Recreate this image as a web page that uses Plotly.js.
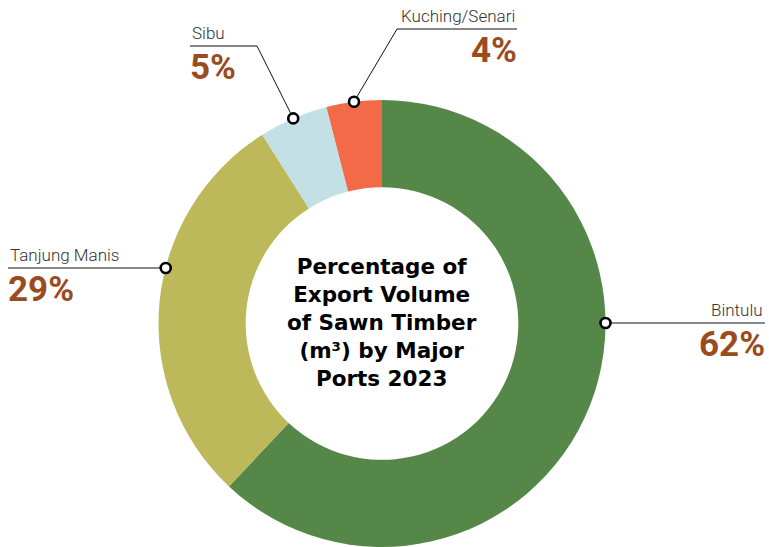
<!DOCTYPE html>
<html>
<head>
<meta charset="utf-8">
<script src="https://cdn.plot.ly/plotly-3.0.1.min.js"></script>
<style>html,body{margin:0;padding:0;background:#fff;}#chart{width:769px;height:547px;}</style>
</head>
<body>
<div id="chart"></div>
<script>
// Data
const ports = ["Bintulu", "Tanjung Manis", "Sibu", "Kuching/Senari"];
const shares = [62, 29, 5, 4];
const pctLabels = ["62%", "29%", "5%", "4%"];
const colors = ["#558848", "#BDB85A", "#C3E0E4", "#F26A47"];
const centerTitle = "Percentage of<br>Export Volume<br>of Sawn Timber<br>(m³) by Major<br>Ports 2023";

const W = 769, H = 547;
const dom = {x: [158 / W, 606 / W], y: [0, (H - 100) / H]};
const R = 223.5, CX = 382, CY = 323.5;
const px = x => x / W;
const py = y => 1 - y / H;

// label geometry (layout): angle override in degrees clockwise from 12 o'clock (null = slice middle)
const anchorOverride = [90, -75.4, null, null];
const total = shares.reduce((a, b) => a + b, 0);
let cum = 0;
const anchors = shares.map((v, i) => {
  const mid = (cum + v / 2) / total * 360;
  cum += v;
  const a = (anchorOverride[i] !== null ? anchorOverride[i] : (mid - 360)) * Math.PI / 180;
  return {x: CX + R * Math.sin(a), y: CY - R * Math.cos(a)};
});

const leaders = [
  {elbow: null, endX: 765, side: "right", lineY: 323},
  {elbow: null, endX: 8, side: "left", lineY: 268},
  {elbow: {x: 257, y: 46}, endX: 190, side: "left", lineY: 46},
  {elbow: {x: 397, y: 29}, endX: 517, side: "right", lineY: 29}
];

const shapes = [];
const annotations = [];
leaders.forEach((L, i) => {
  const a = anchors[i];
  if (L.elbow) {
    shapes.push({type: "line", xref: "paper", yref: "paper", x0: px(a.x), y0: py(a.y), x1: px(L.elbow.x), y1: py(L.elbow.y), line: {color: "#111", width: 1}});
    shapes.push({type: "line", xref: "paper", yref: "paper", x0: px(L.elbow.x), y0: py(L.elbow.y), x1: px(L.endX), y1: py(L.elbow.y), line: {color: "#111", width: 1}});
  } else {
    shapes.push({type: "line", xref: "paper", yref: "paper", x0: px(a.x), y0: py(L.lineY), x1: px(L.endX), y1: py(L.lineY), line: {color: "#111", width: 1}});
  }
  const mr = 5;
  const ay = L.elbow ? a.y : L.lineY;
  shapes.push({type: "circle", xref: "paper", yref: "paper", x0: px(a.x - mr), x1: px(a.x + mr), y0: py(ay - mr), y1: py(ay + mr), fillcolor: "#fff", line: {color: "#000", width: 2.6}});
  annotations.push({xref: "paper", yref: "paper", x: px(L.endX), y: py(L.lineY - 1), xanchor: L.side, yanchor: "bottom", showarrow: false,
    text: ports[i], font: {family: "Roboto", size: 17, color: "#333", weight: 300}});
  annotations.push({xref: "paper", yref: "paper", x: px(L.endX + (L.side === "left" ? -2 : 2)), y: py(L.lineY - 1), xanchor: L.side, yanchor: "top", showarrow: false,
    text: pctLabels[i], font: {family: "Roboto", size: 35, color: "#9A4B20", weight: 700}});
});

annotations.push({xref: "paper", yref: "paper", x: px(CX), y: py(CY - 1), xanchor: "center", yanchor: "middle", showarrow: false,
  text: "<b>" + centerTitle + "</b>", align: "center", font: {family: "DejaVu Sans", size: 21.5, color: "#000"}});

const trace = {
  type: "pie", labels: ports, values: shares, sort: false, direction: "clockwise", rotation: 0,
  hole: 0.61, textinfo: "none", hoverinfo: "label+percent", domain: dom,
  marker: {colors: colors, line: {width: 0}}
};

Plotly.newPlot("chart", [trace], {
  width: W, height: H, margin: {l: 0, r: 0, t: 0, b: 0}, showlegend: false,
  paper_bgcolor: "#fff", shapes: shapes, annotations: annotations
}, {displayModeBar: false, staticPlot: true});
</script>
</body>
</html>
